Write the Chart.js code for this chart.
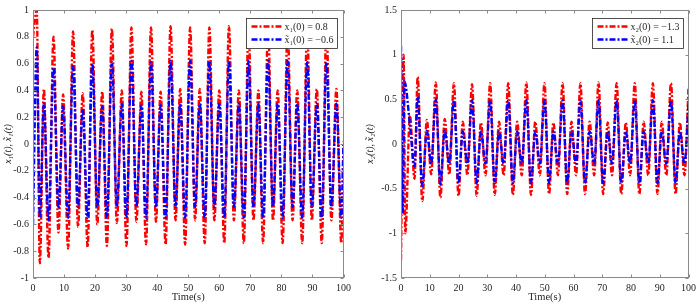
<!DOCTYPE html>
<html>
<head>
<meta charset="utf-8">
<script src="https://cdn.jsdelivr.net/npm/chart.js@4/dist/chart.umd.min.js"></script>
<style>
  html, body { margin: 0; padding: 0; background: #fff; }
  #wrap { display: flex; width: 700px; height: 308px; }
  #c1 { width: 355px; height: 308px; }
  #c2 { width: 345px; height: 308px; }
</style>
</head>
<body>
<div id="wrap">
  <canvas id="c1" width="355" height="308"></canvas>
  <canvas id="c2" width="345" height="308"></canvas>
</div>
<script>
// ---------------- data ----------------
const xTicks = [0, 10, 20, 30, 40, 50, 60, 70, 80, 90, 100];
const xTickLabels = ['0', '10', '20', '30', '40', '50', '60', '70', '80', '90', '100'];
const yTicks1 = [-1, -0.8, -0.6, -0.4, -0.2, 0, 0.2, 0.4, 0.6, 0.8, 1];
const yTickLabels1 = ['-1', '-0.8', '-0.6', '-0.4', '-0.2', '0', '0.2', '0.4', '0.6', '0.8', '1'];
const yTicks2 = [-1.5, -1, -0.5, 0, 0.5, 1, 1.5];
const yTickLabels2 = ['-1.5', '-1', '-0.5', '0', '0.5', '1', '1.5'];

const xTitle = 'Time(s)';
const yTitle1 = 'x\u2081(t), x\u0303\u2081(t)';
const yTitle2 = 'x\u2082(t), x\u0303\u2082(t)';
const legend1 = ['x\u2081(0) = 0.8', 'x\u0303\u2081(0) = \u22120.6'];
const legend2 = ['x\u2082(0) = \u22121.3', 'x\u0303\u2082(0) = 1.1'];

// left panel: times of turning points (s)
const tLeft = [0, 1.2, 2.2, 3.5, 5.0,
  6.6, 8.2, 9.7, 11.3,   12.9, 14.5, 16.0, 17.6,   19.1, 20.7, 22.3, 23.8,
  25.4, 27.0, 28.6, 30.1, 31.7, 33.3, 34.9, 36.4,   38.0, 39.6, 41.1, 42.7,
  44.3, 45.9, 47.4, 49.0, 50.6, 52.2, 53.7, 55.3,   56.8, 58.4, 60.0, 61.6,
  63.1, 64.7, 66.3, 67.9, 69.4, 71.0, 72.6, 74.1,   75.7, 77.3, 78.8, 80.4,
  82.0, 83.6, 85.1, 86.7, 88.3, 89.8, 91.4, 93.0,   94.5, 96.1, 97.7, 99.3,
  100];
const x1 = [0.8, 1.0, -0.89, 0.41, -0.85,
  0.80, -0.66, 0.37, -0.78,   0.84, -0.62, 0.38, -0.77,   0.85, -0.60, 0.39, -0.76,
  0.86, -0.59, 0.40, -0.76,   0.87, -0.58, 0.39, -0.75,   0.87, -0.58, 0.39, -0.75,
  0.88, -0.57, 0.41, -0.75,   0.87, -0.57, 0.41, -0.74,   0.87, -0.57, 0.40, -0.74,
  0.88, -0.57, 0.40, -0.74,   0.87, -0.57, 0.40, -0.74,   0.87, -0.57, 0.40, -0.74,
  0.87, -0.57, 0.40, -0.74,   0.87, -0.57, 0.41, -0.74,   0.87, -0.57, 0.41, -0.74,
  0.02];
const x1hat = [-0.6, 0.72, -0.55, 0.30, -0.57,
  0.57, -0.48, 0.28, -0.55,   0.58, -0.47, 0.26, -0.55,   0.60, -0.47, 0.28, -0.55,
  0.61, -0.47, 0.30, -0.55,   0.62, -0.47, 0.29, -0.55,   0.61, -0.47, 0.29, -0.55,
  0.62, -0.47, 0.30, -0.55,   0.62, -0.47, 0.30, -0.55,   0.62, -0.47, 0.30, -0.55,
  0.62, -0.47, 0.30, -0.55,   0.62, -0.47, 0.30, -0.55,   0.62, -0.47, 0.30, -0.55,
  0.62, -0.47, 0.30, -0.55,   0.61, -0.47, 0.30, -0.55,   0.61, -0.47, 0.30, -0.55,
  0.0];

// right panel
const tRightA = [0, 0.9, 1.5, 3.1, 4.7,
  5.8, 7.4, 9.0, 10.5,   12.1, 13.7, 15.2, 16.8,   18.4, 20.0, 21.5, 23.1,
  24.7, 26.3, 27.8, 29.4, 31.0, 32.6, 34.1, 35.7,   37.3, 38.9, 40.4, 42.0,
  43.6, 45.2, 46.7, 48.3, 49.9, 51.5, 53.0, 54.6,   56.2, 57.8, 59.3, 60.9,
  62.4, 64.0, 65.6, 67.2, 68.7, 70.3, 71.9, 73.4,   75.0, 76.6, 78.2, 79.7,
  81.3, 82.9, 84.4, 86.0, 87.6, 89.2, 90.7, 92.3,   93.9, 95.5, 97.0, 98.6,
  100];
const tRightB = [0, 0.6, 1.2, 3.1, 4.7,
  5.8, 7.4, 9.0, 10.5,   12.1, 13.7, 15.2, 16.8,   18.4, 20.0, 21.5, 23.1,
  24.7, 26.3, 27.8, 29.4, 31.0, 32.6, 34.1, 35.7,   37.3, 38.9, 40.4, 42.0,
  43.6, 45.2, 46.7, 48.3, 49.9, 51.5, 53.0, 54.6,   56.2, 57.8, 59.3, 60.9,
  62.4, 64.0, 65.6, 67.2, 68.7, 70.3, 71.9, 73.4,   75.0, 76.6, 78.2, 79.7,
  81.3, 82.9, 84.4, 86.0, 87.6, 89.2, 90.7, 92.3,   93.9, 95.5, 97.0, 98.6,
  100];
const x2 = [-1.3, 1.0, -1.0, 0.32, -0.39,
  0.75, -0.64, 0.27, -0.34,   0.69, -0.60, 0.28, -0.34,   0.68, -0.58, 0.25, -0.35,
  0.67, -0.58, 0.24, -0.35,   0.68, -0.57, 0.25, -0.35,   0.68, -0.57, 0.25, -0.35,
  0.69, -0.57, 0.25, -0.35,   0.68, -0.56, 0.24, -0.35,   0.68, -0.56, 0.25, -0.35,
  0.68, -0.56, 0.25, -0.35,   0.69, -0.56, 0.24, -0.35,   0.68, -0.56, 0.24, -0.35,
  0.68, -0.56, 0.25, -0.35,   0.68, -0.56, 0.25, -0.35,   0.68, -0.56, 0.24, -0.35,
  0.63];
const x2hat = [1.1, -0.78, 0.7, 0.22, -0.25,
  0.53, -0.47, 0.15, -0.22,   0.50, -0.45, 0.15, -0.22,   0.49, -0.44, 0.14, -0.22,
  0.49, -0.44, 0.14, -0.22,   0.49, -0.44, 0.14, -0.22,   0.49, -0.44, 0.14, -0.22,
  0.49, -0.44, 0.14, -0.22,   0.49, -0.44, 0.14, -0.22,   0.49, -0.44, 0.14, -0.22,
  0.49, -0.44, 0.14, -0.22,   0.49, -0.44, 0.14, -0.22,   0.49, -0.44, 0.14, -0.22,
  0.49, -0.44, 0.14, -0.22,   0.49, -0.44, 0.14, -0.22,   0.49, -0.44, 0.14, -0.22,
  0.45];

// ---------------- style ----------------
const RED = '#ff0000';
const BLUE = '#0000ff';
const AXIS = '#8a8a8a';
const TEXT = '#262626';
const SERIF = '"Liberation Serif", "DejaVu Serif", serif';
const DASH = [6, 2, 2, 2];

function pts(t, v) { return t.map((x, i) => ({ x: x, y: v[i] })); }

const framePlugin = {
  id: 'frame',
  afterDraw(chart, args, o) {
    const { ctx, chartArea: a, scales } = chart;
    const L = Math.round(a.left) + 0.5, R = Math.round(a.right) - 0.5;
    const T = Math.round(a.top) + 0.5, B = Math.round(a.bottom) - 0.5;
    ctx.save();
    // legend box
    ctx.font = '10px ' + SERIF;
    const tw = Math.max(...o.labels.map(s => ctx.measureText(s).width));
    const padL = 5, lineLen = 30, gap = 3, padR = 4;
    const bw = Math.round(padL + lineLen + gap + tw + padR);
    const bh = 30;
    const bx = Math.round(a.right - o.right - bw) + 0.5;
    const by = Math.round(a.top + o.top) + 0.5;
    ctx.fillStyle = '#fff';
    ctx.fillRect(bx, by, bw, bh);
    ctx.strokeStyle = '#262626';
    ctx.lineWidth = 0.8;
    ctx.strokeRect(bx, by, bw, bh);
    const rows = [by + 8, by + 21];
    const cols = [RED, BLUE];
    for (let i = 0; i < 2; i++) {
      ctx.beginPath();
      ctx.setLineDash(DASH);
      ctx.lineWidth = 2.4;
      ctx.strokeStyle = cols[i];
      ctx.moveTo(bx + padL, rows[i]);
      ctx.lineTo(bx + padL + lineLen, rows[i]);
      ctx.stroke();
      ctx.setLineDash([]);
      ctx.fillStyle = TEXT;
      ctx.textBaseline = 'middle';
      ctx.textAlign = 'left';
      ctx.fillText(o.labels[i], bx + padL + lineLen + gap, rows[i] + 0.5);
    }
    // frame
    ctx.strokeStyle = AXIS;
    ctx.lineWidth = 1;
    ctx.strokeRect(L, T, R - L, B - T);
    const tl = 3;
    ctx.beginPath();
    scales.x.ticks.forEach(t => {
      const px = Math.round(scales.x.getPixelForValue(t.value)) + 0.5;
      ctx.moveTo(px, B); ctx.lineTo(px, B - tl);
      ctx.moveTo(px, T); ctx.lineTo(px, T + tl);
    });
    scales.y.ticks.forEach(t => {
      const py = Math.round(scales.y.getPixelForValue(t.value)) + 0.5;
      ctx.moveTo(L, py); ctx.lineTo(L + tl, py);
      ctx.moveTo(R, py); ctx.lineTo(R - tl, py);
    });
    ctx.stroke();
    ctx.restore();
  }
};

function makeChart(id, cfg) {
  const ds = [
    { label: cfg.labels[0], data: pts(cfg.tA, cfg.a), borderColor: RED, order: 1 },
    { label: cfg.labels[1], data: pts(cfg.tB, cfg.b), borderColor: BLUE, order: 0 }
  ].map(d => Object.assign(d, {
    borderWidth: 2.4, borderDash: DASH, pointRadius: 0, fill: false,
    cubicInterpolationMode: 'monotone', backgroundColor: d.borderColor
  }));
  return new Chart(document.getElementById(id), {
    type: 'line',
    data: { datasets: ds },
    options: {
      responsive: false,
      animation: false,
      events: [],
      layout: { padding: { top: cfg.padTop, right: cfg.padRight, left: 0, bottom: 0 } },
      plugins: {
        legend: { display: false },
        tooltip: { enabled: false },
        frame: { labels: cfg.labels, right: cfg.legRight, top: 8 }
      },
      scales: {
        x: {
          type: 'linear', min: 0, max: 100,
          grid: { display: false, drawTicks: false },
          border: { display: false },
          afterBuildTicks: s => { s.ticks = xTicks.map(v => ({ value: v })); },
          afterFit: s => { s.height = 30; },
          ticks: {
            autoSkip: false, maxRotation: 0, padding: 4, color: TEXT,
            font: { family: SERIF, size: 10 },
            callback: (v) => xTickLabels[xTicks.indexOf(v)]
          },
          title: {
            display: true, text: xTitle, color: TEXT,
            font: { family: SERIF, size: 10.5 }, padding: { top: 0, bottom: 4 }
          }
        },
        y: {
          type: 'linear', min: cfg.yTicks[0], max: cfg.yTicks[cfg.yTicks.length - 1],
          grid: { display: false, drawTicks: false },
          border: { display: false },
          afterBuildTicks: s => { s.ticks = cfg.yTicks.map(v => ({ value: v })); },
          afterFit: s => { s.width = cfg.yWidth; },
          ticks: {
            autoSkip: false, padding: 4, color: TEXT,
            font: { family: SERIF, size: 10 },
            callback: (v) => cfg.yLabels[cfg.yTicks.indexOf(v)]
          },
          title: {
            display: true, text: cfg.yTitle, color: TEXT,
            font: { family: SERIF, size: 10, style: 'italic' },
            padding: { top: cfg.yTitlePad, bottom: 0 }
          }
        }
      }
    },
    plugins: [framePlugin]
  });
}

makeChart('c1', {
  tA: tLeft, a: x1, tB: tLeft, b: x1hat, labels: legend1,
  yTicks: yTicks1, yLabels: yTickLabels1, yTitle: yTitle1,
  padTop: 4, padRight: 3, yWidth: 33, yTitlePad: 2, legRight: 7
});
makeChart('c2', {
  tA: tRightA, a: x2, tB: tRightB, b: x2hat, labels: legend2,
  yTicks: yTicks2, yLabels: yTickLabels2, yTitle: yTitle2,
  padTop: 5, padRight: 6, yWidth: 46, yTitlePad: 9, legRight: 6
});
</script>
</body>
</html>
